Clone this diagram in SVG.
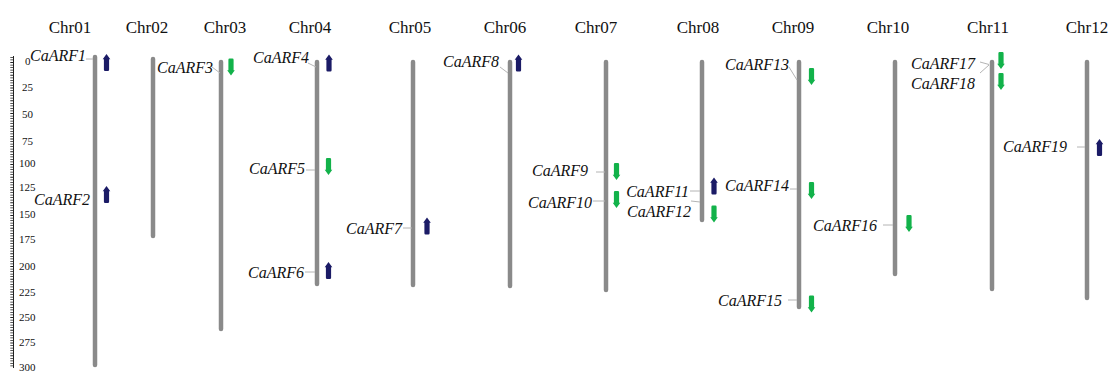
<svg xmlns="http://www.w3.org/2000/svg" width="1113" height="372" viewBox="0 0 1113 372">
  <style>
    text { font-family: 'Liberation Serif', 'Times New Roman', 'DejaVu Serif', serif; }
    .hdr { font-size: 17px; fill: #111; text-anchor: middle; }
    .gene { font-style: italic; font-size: 16px; fill: #111; text-anchor: end; }
    .tick { font-size: 11px; fill: #111; }
    .chr { stroke: #8a8a8a; stroke-width: 4.5; stroke-linecap: round; fill: none; }
    .lead { stroke: #b4b4b4; stroke-width: 1; fill: none; }
    .up { fill: #1b1b66; }
    .down { fill: #12b24a; }
  </style>
  <defs>
    <!-- strand arrow, pointing up; the reverse strand uses the same path rotated -->
    <path id="arr" d="M0,-8.5 L3.8,-3.2 L2.6,-3.2 L2.6,7.3 Q2.6,8.5 1.4,8.5 L-1.4,8.5 Q-2.6,8.5 -2.6,7.3 L-2.6,-3.2 L-3.8,-3.2 Z"/>
  </defs>

  <!-- scale ruler (Mb) -->
  <g id="scale">
    <line x1="13.5" y1="56" x2="13.5" y2="368" stroke="#222" stroke-width="1"/>
    <line x1="11.8" y1="57" x2="11.8" y2="368" stroke="#222" stroke-width="3" stroke-dasharray="0.8 1.75"/>
    <text class="tick" x="25" y="65">0</text>
    <text class="tick" x="22" y="91">25</text>
    <text class="tick" x="22" y="118">50</text>
    <text class="tick" x="22" y="145">75</text>
    <text class="tick" x="19" y="167">100</text>
    <text class="tick" x="19" y="191">125</text>
    <text class="tick" x="19" y="218">150</text>
    <text class="tick" x="19" y="243">175</text>
    <text class="tick" x="19" y="270">200</text>
    <text class="tick" x="19" y="296">225</text>
    <text class="tick" x="19" y="321">250</text>
    <text class="tick" x="19" y="346">275</text>
    <text class="tick" x="19" y="371">300</text>
  </g>

  <!-- chromosomes -->
  <g id="Chr01"><text class="hdr" x="70" y="33">Chr01</text><line class="chr" x1="95" y1="57" x2="95" y2="365"/></g>
  <g id="Chr02"><text class="hdr" x="147" y="33">Chr02</text><line class="chr" x1="153" y1="59" x2="153" y2="236"/></g>
  <g id="Chr03"><text class="hdr" x="225" y="33">Chr03</text><line class="chr" x1="221" y1="62" x2="221" y2="329"/></g>
  <g id="Chr04"><text class="hdr" x="310" y="33">Chr04</text><line class="chr" x1="317" y1="62" x2="317" y2="284"/></g>
  <g id="Chr05"><text class="hdr" x="410" y="33">Chr05</text><line class="chr" x1="413" y1="62" x2="413" y2="285"/></g>
  <g id="Chr06"><text class="hdr" x="505" y="33">Chr06</text><line class="chr" x1="510" y1="62" x2="510" y2="286"/></g>
  <g id="Chr07"><text class="hdr" x="596" y="33">Chr07</text><line class="chr" x1="606" y1="62" x2="606" y2="290"/></g>
  <g id="Chr08"><text class="hdr" x="698" y="33">Chr08</text><line class="chr" x1="702" y1="62" x2="702" y2="220"/></g>
  <g id="Chr09"><text class="hdr" x="793" y="33">Chr09</text><line class="chr" x1="799" y1="62" x2="799" y2="307"/></g>
  <g id="Chr10"><text class="hdr" x="888" y="33">Chr10</text><line class="chr" x1="895" y1="62" x2="895" y2="274"/></g>
  <g id="Chr11"><text class="hdr" x="988" y="33">Chr11</text><line class="chr" x1="992" y1="62" x2="992" y2="289"/></g>
  <g id="Chr12"><text class="hdr" x="1087" y="33">Chr12</text><line class="chr" x1="1087" y1="62" x2="1087" y2="298"/></g>

  <!-- label leaders -->
  <g id="connectors">
    <path class="lead" d="M86,59 L93,59"/>
    <path class="lead" d="M212,67 L220,73"/>
    <path class="lead" d="M308,63 L316,67"/>
    <path class="lead" d="M306,170 L315,170"/>
    <path class="lead" d="M305,272 L315,272"/>
    <path class="lead" d="M403,228 L412,228"/>
    <path class="lead" d="M500,67 L508,73"/>
    <path class="lead" d="M596,172 L605,172"/>
    <path class="lead" d="M593,201 L605,201"/>
    <path class="lead" d="M690,191 L700,191"/>
    <path class="lead" d="M691,201 L700,202"/>
    <path class="lead" d="M789,67 L797,80"/>
    <path class="lead" d="M790,189 L797,189"/>
    <path class="lead" d="M788,300 L797,300"/>
    <path class="lead" d="M883,225 L893,225"/>
    <path class="lead" d="M980,62 L989,64.5"/>
    <path class="lead" d="M980,73 L989,65"/>
    <path class="lead" d="M1077,147 L1085,147"/>
  </g>

  <!-- genes: name and strand arrow -->
  <g id="CaARF1"><text class="gene" x="86" y="61">CaARF1</text><use href="#arr" class="up" transform="translate(106.5,62.5)"/></g>
  <g id="CaARF2"><text class="gene" x="90" y="205">CaARF2</text><use href="#arr" class="up" transform="translate(106.5,194.5)"/></g>
  <g id="CaARF3"><text class="gene" x="213" y="73">CaARF3</text><use href="#arr" class="down" transform="translate(231,67) rotate(180)"/></g>
  <g id="CaARF4"><text class="gene" x="309" y="63">CaARF4</text><use href="#arr" class="up" transform="translate(329,63)"/></g>
  <g id="CaARF5"><text class="gene" x="305" y="174">CaARF5</text><use href="#arr" class="down" transform="translate(328.5,166.5) rotate(180)"/></g>
  <g id="CaARF6"><text class="gene" x="304" y="278">CaARF6</text><use href="#arr" class="up" transform="translate(328.5,270.5)"/></g>
  <g id="CaARF7"><text class="gene" x="402" y="234">CaARF7</text><use href="#arr" class="up" transform="translate(427,226)"/></g>
  <g id="CaARF8"><text class="gene" x="499" y="67">CaARF8</text><use href="#arr" class="up" transform="translate(518.5,63)"/></g>
  <g id="CaARF9"><text class="gene" x="588" y="176">CaARF9</text><use href="#arr" class="down" transform="translate(616.5,171.5) rotate(180)"/></g>
  <g id="CaARF10"><text class="gene" x="592" y="208">CaARF10</text><use href="#arr" class="down" transform="translate(616.5,199.5) rotate(180)"/></g>
  <g id="CaARF11"><text class="gene" x="689" y="197">CaARF11</text><use href="#arr" class="up" transform="translate(714,186)"/></g>
  <g id="CaARF12"><text class="gene" x="691" y="217">CaARF12</text><use href="#arr" class="down" transform="translate(714,214) rotate(180)"/></g>
  <g id="CaARF13"><text class="gene" x="789" y="70">CaARF13</text><use href="#arr" class="down" transform="translate(811.5,76.5) rotate(180)"/></g>
  <g id="CaARF14"><text class="gene" x="789" y="191">CaARF14</text><use href="#arr" class="down" transform="translate(811.5,190.5) rotate(180)"/></g>
  <g id="CaARF15"><text class="gene" x="782" y="306">CaARF15</text><use href="#arr" class="down" transform="translate(811.5,304) rotate(180)"/></g>
  <g id="CaARF16"><text class="gene" x="877" y="231">CaARF16</text><use href="#arr" class="down" transform="translate(909,223.5) rotate(180)"/></g>
  <g id="CaARF17"><text class="gene" x="975" y="69">CaARF17</text><use href="#arr" class="down" transform="translate(1001,60.5) rotate(180)"/></g>
  <g id="CaARF18"><text class="gene" x="975" y="89">CaARF18</text><use href="#arr" class="down" transform="translate(1001,81.5) rotate(180)"/></g>
  <g id="CaARF19"><text class="gene" x="1067" y="152">CaARF19</text><use href="#arr" class="up" transform="translate(1099.5,147.5)"/></g>
</svg>
